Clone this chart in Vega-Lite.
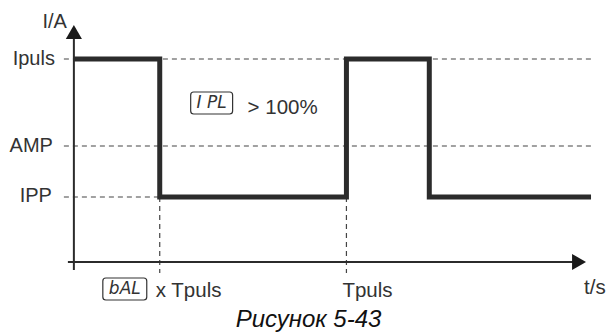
{
  "$schema": "https://vega.github.io/schema/vega-lite/v6.json",
  "width": 606,
  "height": 333,
  "autosize": {"type": "fit", "contains": "padding"},
  "padding": 0,
  "background": "white",
  "config": {"view": {"stroke": null}},
  "encoding": {
    "x": {"field": "x", "type": "quantitative", "scale": {"domain": [-74, 532], "nice": false, "zero": false}, "axis": null},
    "y": {"field": "y", "type": "quantitative", "scale": {"domain": [-71, 262], "nice": false, "zero": false}, "axis": null}
  },
  "layer": [
    {
      "data": {"values": [
        {"x": -10, "x2": 518, "y": 203, "y2": 203},
        {"x": -10, "x2": 518, "y": 116, "y2": 116},
        {"x": -10, "x2": 86, "y": 65, "y2": 65},
        {"x": 86, "x2": 86, "y": 65, "y2": -11},
        {"x": 273, "x2": 273, "y": 65, "y2": -11}
      ]},
      "mark": {"type": "rule", "color": "#444444", "strokeWidth": 1.2, "strokeDash": [5, 4]},
      "encoding": {"x2": {"field": "x2"}, "y2": {"field": "y2"}}
    },
    {
      "data": {"values": [
        {"x": 0, "x2": 0, "y": -8, "y2": 228},
        {"x": -6, "x2": 500, "y": 0, "y2": 0}
      ]},
      "mark": {"type": "rule", "color": "#2b2b2b", "strokeWidth": 2},
      "encoding": {"x2": {"field": "x2"}, "y2": {"field": "y2"}}
    },
    {
      "data": {"values": [
        {"i": 0, "x": 0, "y": 203},
        {"i": 1, "x": 86, "y": 203},
        {"i": 2, "x": 86, "y": 65},
        {"i": 3, "x": 273, "y": 65},
        {"i": 4, "x": 273, "y": 203},
        {"i": 5, "x": 356, "y": 203},
        {"i": 6, "x": 356, "y": 65},
        {"i": 7, "x": 518, "y": 65}
      ]},
      "mark": {"type": "line", "color": "#2b2b2b", "strokeWidth": 5, "strokeJoin": "miter", "strokeCap": "butt"},
      "encoding": {"order": {"field": "i", "type": "quantitative"}}
    },
    {
      "data": {"values": [{"x": 0, "y": 230}]},
      "mark": {"type": "point", "shape": "triangle-up", "filled": true, "size": 260, "color": "#1a1a1a", "opacity": 1}
    },
    {
      "data": {"values": [{"x": 506, "y": 0}]},
      "mark": {"type": "point", "shape": "triangle-right", "filled": true, "size": 260, "color": "#1a1a1a", "opacity": 1}
    },
    {
      "data": {"values": [
        {"x": 29, "x2": 73, "y": -16, "y2": -38},
        {"x": 117, "x2": 159, "y": 170, "y2": 148}
      ]},
      "mark": {"type": "rect", "fill": null, "stroke": "#333333", "strokeWidth": 1.2, "cornerRadius": 3},
      "encoding": {"x2": {"field": "x2"}, "y2": {"field": "y2"}}
    },
    {
      "data": {"values": [
        {"x": 51, "y": -27, "t": "bAL"},
        {"x": 138, "y": 159, "t": "I PL"}
      ]},
      "mark": {"type": "text", "font": "DejaVu Sans", "fontStyle": "italic", "fontSize": 17, "align": "center", "baseline": "middle", "color": "#333333"},
      "encoding": {"text": {"field": "t"}}
    },
    {
      "data": {"values": [
        {"x": -19, "y": 197, "t": "Ipuls"},
        {"x": -21, "y": 110, "t": "AMP"},
        {"x": -22, "y": 60, "t": "IPP"},
        {"x": -7, "y": 234, "t": "I/A"}
      ]},
      "mark": {"type": "text", "font": "Liberation Sans", "fontSize": 20, "align": "right", "baseline": "alphabetic", "color": "#333333"},
      "encoding": {"text": {"field": "t"}}
    },
    {
      "data": {"values": [
        {"x": 82, "y": -35, "t": "x Tpuls"},
        {"x": 269, "y": -35, "t": "Tpuls"},
        {"x": 174, "y": 148, "t": "> 100%"},
        {"x": 511, "y": -32, "t": "t/s"}
      ]},
      "mark": {"type": "text", "font": "Liberation Sans", "fontSize": 20.5, "align": "left", "baseline": "alphabetic", "color": "#333333"},
      "encoding": {"text": {"field": "t"}}
    },
    {
      "data": {"values": [{"x": 235, "y": -65, "t": "Рисунок 5-43"}]},
      "mark": {"type": "text", "font": "Liberation Sans", "fontStyle": "italic", "fontSize": 24, "align": "center", "baseline": "alphabetic", "color": "#111111"},
      "encoding": {"text": {"field": "t"}}
    }
  ]
}
